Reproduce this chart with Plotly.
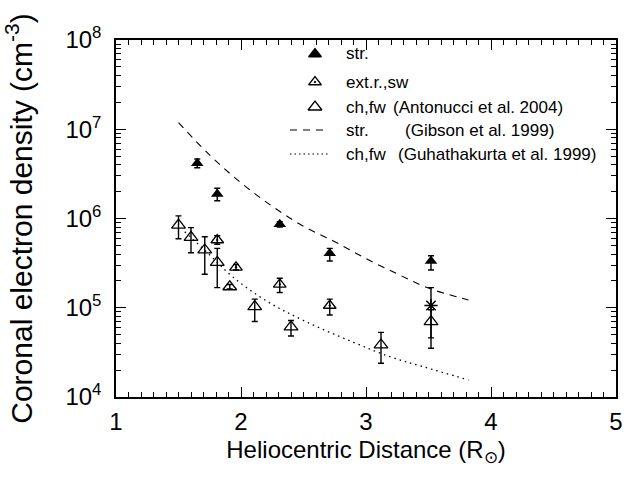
import plotly.graph_objects as go

# ---------------- data ----------------
# streamers (filled triangles)
str_x = [1.65, 1.81, 2.31, 2.71, 3.52]
str_y = [4.15e6, 1.88e6, 8.6e5, 4.07e5, 3.34e5]
str_hi = [4.65e6, 2.18e6, 9.2e5, 4.63e5, 3.83e5]
str_lo = [3.7e6, 1.58e6, 8.0e5, 3.34e5, 2.65e5]

# extended regions / slow wind (triangle with dot)
ext_x = [1.81, 1.96, 2.31, 2.71]
ext_y = [5.74e5, 2.84e5, 1.83e5, 1.06e5]
ext_hi = [6.4e5, 3.05e5, 2.14e5, 1.25e5]
ext_lo = [5.15e5, 2.65e5, 1.48e5, 8.3e4]

# coronal holes / fast wind (open triangles, Antonucci et al. 2004)
ch_x = [1.50, 1.60, 1.71, 1.81, 1.91, 2.11, 2.40, 3.12, 3.52]
ch_y = [8.45e5, 6.15e5, 4.44e5, 3.23e5, 1.72e5, 1.03e5, 6.1e4, 3.83e4, 7.0e4]
ch_hi = [1.07e6, 7.9e5, 6.25e5, 4.63e5, 1.82e5, 1.25e5, 7.2e4, 5.3e4, 9.5e4]
ch_lo = [5.94e5, 4.14e5, 2.37e5, 1.68e5, 1.62e5, 7.0e4, 4.83e4, 2.39e4, 3.52e4]

# asterisk point
ast_x = [3.52]
ast_y = [1.06e5]
ast_hi = [1.68e5]
ast_lo = [4.6e4]

# Gibson et al. 1999 streamer model (dashed)
gib_x = [1.50, 1.75, 2.00, 2.25, 2.50, 2.75, 3.00, 3.25, 3.50, 3.82]
gib_y = [1.19e7, 5.13e6, 2.51e6, 1.37e6, 8.2e5, 5.5e5, 3.55e5, 2.4e5, 1.66e5, 1.22e5]

# Guhathakurta et al. 1999 coronal hole model (dotted)
guh_x = [1.55, 1.75, 1.93, 2.20, 2.50, 2.90, 3.20, 3.45, 3.82]
guh_y = [7.1e5, 3.9e5, 2.24e5, 1.2e5, 7.2e4, 4.1e4, 2.8e4, 2.2e4, 1.55e4]

x_ticks = [1, 2, 3, 4, 5]
y_ticks = [1e4, 1e5, 1e6, 1e7, 1e8]
y_ticktext = ["10<sup>4</sup>", "10<sup>5</sup>", "10<sup>6</sup>", "10<sup>7</sup>", "10<sup>8</sup>"]

legend_rows = ["str.", "ext.r.,sw", "ch,fw", "str.", "ch,fw"]
legend_refs = ["", "", "(Antonucci et al. 2004)", "(Gibson et al. 1999)", "(Guhathakurta et al. 1999)"]

# ---------------- figure ----------------
FONT = "Liberation Sans, Arial, sans-serif"
W, H = 628, 477
ML, MR, MT, MB = 116, 12, 40, 80
PW, PH = W - ML - MR, H - MT - MB


def px2paper(px, py):
    return (px - ML) / PW, (H - MB - py) / PH


fig = go.Figure()

fig.add_trace(go.Scatter(x=gib_x, y=gib_y, mode="lines", line=dict(color="black", width=1.1, dash="7px,6px", shape="spline"),
                         showlegend=False, hoverinfo="skip"))
fig.add_trace(go.Scatter(x=guh_x, y=guh_y, mode="lines", line=dict(color="black", width=1.3, dash="1.5px,4px", shape="spline"),
                         showlegend=False, hoverinfo="skip"))


def err(y, hi, lo):
    return dict(type="data", symmetric=False,
                array=[h - v for h, v in zip(hi, y)],
                arrayminus=[v - l for v, l in zip(y, lo)],
                color="black", thickness=1.4, width=3)


fig.add_trace(go.Scatter(x=ch_x, y=ch_y, mode="markers", error_y=err(ch_y, ch_hi, ch_lo),
                         marker=dict(symbol="triangle-up-open", size=12, color="black", line=dict(width=1.3)),
                         showlegend=False))
fig.add_trace(go.Scatter(x=ext_x, y=ext_y, mode="markers", error_y=err(ext_y, ext_hi, ext_lo),
                         marker=dict(symbol="triangle-up-open-dot", size=11, color="black", line=dict(width=1.3)),
                         showlegend=False))
fig.add_trace(go.Scatter(x=str_x, y=str_y, mode="markers", error_y=err(str_y, str_hi, str_lo),
                         marker=dict(symbol="triangle-up", size=11, color="black"),
                         showlegend=False))
fig.add_trace(go.Scatter(x=ast_x, y=ast_y, mode="markers", error_y=err(ast_y, ast_hi, ast_lo),
                         marker=dict(symbol="asterisk-open", size=11, color="black", line=dict(width=1.5, color="black")),
                         showlegend=False))

# legend sample markers on an overlay axis matching the plot area
row_py = [54, 82, 107, 130, 154]
leg_marks = [("triangle-up", 11), ("triangle-up-open-dot", 11), ("triangle-up-open", 12)]
for i, (sym, sz) in enumerate(leg_marks):
    xp, yp = px2paper(315, row_py[i])
    fig.add_trace(go.Scatter(x=[xp], y=[yp], xaxis="x2", yaxis="y2", mode="markers",
                             marker=dict(symbol=sym, size=sz, color="black", line=dict(width=1.3, color="black")),
                             showlegend=False, hoverinfo="skip"))

LEG_SIZE = 17
annotations = []
ref_px = [None, None, 393, 405, 398]
for i, t in enumerate(legend_rows):
    xp, yp = px2paper(346, row_py[i])
    annotations.append(dict(x=xp, y=yp, xref="paper", yref="paper", text=t, showarrow=False,
                            xanchor="left", yanchor="middle", xshift=-2,
                            font=dict(family=FONT, size=LEG_SIZE, color="black")))
    if legend_refs[i]:
        xp2, _ = px2paper(ref_px[i], row_py[i])
        annotations.append(dict(x=xp2, y=yp, xref="paper", yref="paper", text=legend_refs[i], showarrow=False,
                                xanchor="left", yanchor="middle", xshift=-2,
                                font=dict(family=FONT, size=LEG_SIZE, color="black")))

shapes = []
for i, dash in [(3, "7px,6px"), (4, "1.5px,3px")]:
    x0, yp = px2paper(290, row_py[i])
    x1, _ = px2paper(328, row_py[i])
    shapes.append(dict(type="line", xref="paper", yref="paper", x0=x0, x1=x1, y0=yp, y1=yp,
                       line=dict(color="black", width=1.2, dash=dash)))

minor_y = [m * 10 ** e for e in range(4, 8) for m in range(2, 10)]

fig.update_layout(
    width=W, height=H,
    margin=dict(l=ML, r=MR, t=MT, b=MB, autoexpand=False),
    paper_bgcolor="white", plot_bgcolor="white",
    font=dict(family=FONT, color="black"),
    showlegend=False,
    annotations=annotations,
    shapes=shapes,
    xaxis=dict(range=[1, 5], tickmode="array", tickvals=x_ticks, ticktext=[str(v) for v in x_ticks],
               ticks="inside", ticklen=10, tickwidth=1.4, tickcolor="black",
               showline=True, linecolor="black", linewidth=1.5, mirror="ticks",
               minor=dict(ticks="inside", ticklen=5, dtick=0.1, tickwidth=1.2, tickcolor="black", showgrid=False),
               showgrid=False, zeroline=False, ticklabelstandoff=2,
               tickfont=dict(family=FONT, size=24, color="black"),
               title=dict(text="Heliocentric Distance (R<sub>⊙</sub>)", font=dict(family=FONT, size=24, color="black"),
                          standoff=8)),
    yaxis=dict(type="log", range=[4, 8], tickmode="array", tickvals=y_ticks, ticktext=y_ticktext,
               ticks="inside", ticklen=10, tickwidth=1.4, tickcolor="black",
               showline=True, linecolor="black", linewidth=1.5, mirror="ticks",
               minor=dict(ticks="inside", ticklen=5, tickvals=minor_y, tickwidth=1.2, tickcolor="black", showgrid=False),
               showgrid=False, zeroline=False, ticklabelstandoff=8,
               tickfont=dict(family=FONT, size=24, color="black"),
               title=dict(text="Coronal electron density (cm<sup>-3</sup>)", font=dict(family=FONT, size=30, color="black"),
                          standoff=26)),
    xaxis2=dict(overlaying="x", range=[0, 1], visible=False, fixedrange=True),
    yaxis2=dict(overlaying="y", range=[0, 1], visible=False, fixedrange=True),
)

fig.write_html("out.html")
